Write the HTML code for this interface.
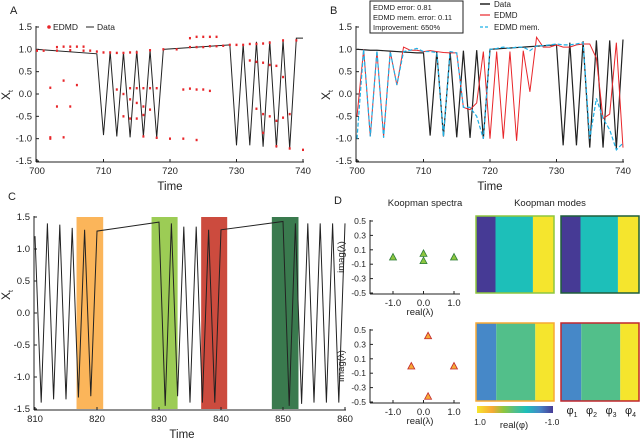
<!DOCTYPE html>
<html><head><meta charset="utf-8"><style>
body{margin:0;background:#fff}
svg{display:block;font-family:"Liberation Sans",Arial,sans-serif}
</style></head><body>
<svg id="fig" width="640" height="442" viewBox="0 0 640 442" xmlns="http://www.w3.org/2000/svg"></svg>
<script>
// ---- data ----
const aTimes=[700,709,710,711,712,713,714,715,716,717,718,719,729,730,731,732,733,734,735,736,737,738,739,740];
const aData=[1.0,0.9,-0.92,0.95,-0.95,0.93,-0.97,0.97,-0.95,0.98,-0.98,1.0,1.1,-1.15,1.12,-1.15,1.17,-1.18,1.18,-1.2,1.2,-1.22,1.25,1.25];
const aEdmdT=[700,701,702,702,702,703,703,703,704,704,704,705,705,705,706,706,707,707,708,709,710,711,712,712,713,713,713,714,714,714,714,715,715,715,715,716,716,716,716,717,717,717,718,718,719,720,721,722,722,723,723,723,724,724,724,724,725,725,725,726,726,726,727,727,728,729,730,731,732,732,733,733,733,734,734,734,734,735,735,735,736,736,736,737,737,737,738,738,739,740];
const aEdmdV=[0.97,0.97,0.14,-0.97,-1.0,1.05,0.97,-0.28,1.06,0.3,-0.97,1.06,0.98,-0.28,1.06,0.2,1.06,0.97,0.97,0.95,0.93,0.93,0.92,0.1,0.92,0.0,-0.5,0.93,0.13,-0.12,-0.55,0.93,0.13,-0.2,-0.55,0.13,-0.28,-0.47,-0.95,0.98,0.13,-0.35,0.13,-0.98,1.0,-1.0,1.0,0.1,-1.0,1.25,1.05,0.12,1.28,1.05,0.1,-1.03,1.28,1.05,0.1,1.28,1.07,0.07,1.28,1.07,1.08,1.1,1.1,1.1,1.12,0.75,1.12,0.72,-0.33,1.13,0.7,-0.45,-0.87,1.15,0.65,-0.5,0.63,-0.6,-1.17,1.2,0.38,-0.53,-0.45,-1.22,1.2,-1.25];
const bTimes=[700,701,702,703,704,705,706,707,708,709,710,711,712,713,714,715,716,717,718,719,720,721,722,723,724,725,726,727,728,729,730,731,732,733,734,735,736,737,738,739,740];
const bData=[1.0,0.99,0.98,0.98,0.97,0.96,0.95,0.94,0.93,0.92,0.92,-0.93,0.95,-0.95,0.95,-0.97,0.97,-0.98,0.98,-1.0,1.0,1.01,1.02,1.03,1.04,1.05,1.06,1.07,1.08,1.09,1.1,-1.15,1.15,-1.15,1.18,-1.2,1.2,-1.2,1.2,-1.22,1.22];
const bEdmd=[-0.5,1.0,-0.95,0.95,-0.95,0.95,0.2,1.05,0.98,0.98,0.95,0.97,0.95,0.93,0.92,0.92,-0.3,-0.35,-0.2,0.95,-1.0,0.95,-1.0,0.95,-1.05,0.97,0.05,1.27,1.05,1.05,1.1,1.05,1.05,1.1,1.12,1.12,0.8,-0.55,-0.45,1.15,-1.2];
const bMem=[-1.0,1.0,-0.95,0.97,-0.98,0.95,0.2,0.95,0.98,1.02,0.95,0.95,0.93,-0.95,0.95,0.92,-0.3,-0.3,-0.5,-1.0,1.0,1.02,1.05,1.02,1.05,1.05,0.97,1.08,1.08,1.1,1.12,1.1,1.1,1.12,1.15,-1.0,-0.1,-0.55,-0.8,-1.25,-1.1];
const cTimes=[810,811,812,813,814,815,816,817,818,819,820,830,831,832,833,834,835,836,837,838,839,840,850,851,852,853,854,855,856,857,858,859,860];
const cData=[1.2,-1.4,1.4,-1.35,1.38,-1.35,1.33,-1.32,1.3,-1.3,1.28,1.42,-1.45,1.4,-1.3,1.35,-1.4,1.35,-1.4,1.3,-1.4,1.3,1.43,-1.45,1.4,-1.42,1.4,-1.4,1.4,-1.4,1.4,-1.4,1.4];
const cBandStart=[816.7,828.8,836.8,848.2];
const cBandEnd=[821,833,841,852.5];
const cBandColors=["#fbb55a","#9ccc55","#cc4b3e","#3a7a4e"];
const spTopRe=[-1,0,0,1], spTopIm=[0,0.05,-0.05,0];
const spBotRe=[0.15,-0.4,1,0.15], spBotIm=[0.42,0,0,-0.42];
const yTicks=[1.5,1.0,0.5,0.0,-0.5,-1.0,-1.5];
const yTickLabels=["1.5","1.0","0.5","0.0","-0.5","-1.0","-1.5"];
const abTicks=[700,710,720,730,740];
const cTicks=[810,820,830,840,850,860];
const spYTicks=[0.5,0.3,0.1,-0.1,-0.3,-0.5];
const spXTicks=[-1,0,1];
const spXLabels=["-1.0","0.0","1.0"];

// ---- helpers ----
const svg=document.getElementById('fig');
const NS="http://www.w3.org/2000/svg";
function mk(tag,at,parent){const e=document.createElementNS(NS,tag);for(const k in at)e.setAttribute(k,at[k]);(parent||svg).appendChild(e);return e;}
function txt(s,x,y,size,anchor,parent,extra){const t=mk('text',Object.assign({x:x,y:y,'font-size':size,'text-anchor':anchor||'middle',fill:'#222'},extra||{}),parent);t.textContent=s;return t;}
function lin(d0,d1,r0,r1){return v=>r0+(v-d0)/(d1-d0)*(r1-r0);}

function axes(name,xs,ys,x0,x1,yb,xt,xtl,ytArr,ytl,xlabel,ysize){
  const g=mk('g',{});
  
  
  mk('line',{x1:x0,y1:ys(ytArr[0])-1,x2:x0,y2:yb,stroke:'#222','stroke-width':1},g);
  mk('line',{x1:x0,y1:yb,x2:x1,y2:yb,stroke:'#222','stroke-width':1},g);
  ytArr.forEach((v,i)=>{mk('line',{x1:x0,y1:ys(v),x2:x0+3,y2:ys(v),stroke:'#222'},g);txt(ytl[i],x0-4,ys(v)+3,ysize||9.5,'end',g);});
  xt.forEach((v,i)=>{mk('line',{x1:xs(v),y1:yb,x2:xs(v),y2:yb-3,stroke:'#222'},g);txt(xtl[i],xs(v),yb+12,9.5,'middle',g);});
  if(xlabel){txt(xlabel[0],xlabel[1],xlabel[2],xlabel[3],'middle',g);}
  return g;
}
function poly(xs,ys,T,V,at,name){const p=mk('polyline',Object.assign({points:T.map((t,i)=>xs(t)+','+ys(V[i])).join(' '),fill:'none'},at));return p;}
function ylab(x,y,name){const t=mk('text',{x:x,y:y,'font-size':12,'text-anchor':'middle',fill:'#222',transform:'rotate(-90 '+x+' '+y+')'});t.textContent='X';const s=mk('tspan',{'font-size':7,dy:3},t);s.textContent='t';}

// ---- Panel A ----
txt("A",10,14,11,'start');
const axA=lin(700,740,37,303), ayA=lin(1.5,-1.5,27,161);
axes('panel-a-axes',axA,ayA,36,304,162,abTicks,abTicks.map(String),yTicks,yTickLabels,["Time",170,190,11.5]);
ylab(10,95,'y-axis-title-a');
poly(axA,ayA,aTimes,aData,{stroke:'#222','stroke-width':1},'data-line-a');
aEdmdT.forEach((t,i)=>{const c=mk('rect',{x:axA(t)-1,y:ayA(aEdmdV[i])-1.2,width:2,height:2.4,fill:'#e8262a'});

});
const lgA=mk('g',{});
mk('circle',{cx:49,cy:27,r:1.8,fill:'#e8262a'},lgA);txt("EDMD",53,30,8.5,'start',lgA);
mk('line',{x1:86,y1:27,x2:94,y2:27,stroke:'#222'},lgA);txt("Data",97,30,8.5,'start',lgA);

// ---- Panel B ----
txt("B",330,14,11,'start');
const axB=lin(700,740,357,623), ayB=lin(1.5,-1.5,27,161);
axes('panel-b-axes',axB,ayB,356,624,162,abTicks,abTicks.map(String),yTicks,yTickLabels,["Time",490,190,11.5]);
ylab(330,95,'y-axis-title-b');
poly(axB,ayB,bTimes,bData,{stroke:'#222','stroke-width':1.2},'data-line-b');
poly(axB,ayB,bTimes,bEdmd,{stroke:'#e8262a','stroke-width':1},'edmd-line-b');
poly(axB,ayB,bTimes,bMem,{stroke:'#1fb1e6','stroke-width':1.2,'stroke-dasharray':'4,2'},'edmd-mem-line-b');
const box=mk('g',{});
mk('rect',{x:370,y:1,width:93,height:32,fill:'#fff',stroke:'#222','stroke-width':1},box);
txt("EDMD error: 0.81",373,10,7.5,'start',box);txt("EDMD mem. error: 0.11",373,20,7.5,'start',box);txt("Improvement: 650%",373,30,7.5,'start',box);
const lgB=mk('g',{});
mk('line',{x1:480,y1:4,x2:490,y2:4,stroke:'#222','stroke-width':1.5},lgB);txt("Data",494,7,8,'start',lgB);
mk('line',{x1:480,y1:15,x2:490,y2:15,stroke:'#e8262a','stroke-width':1.2},lgB);txt("EDMD",494,18,8,'start',lgB);
mk('line',{x1:480,y1:27,x2:490,y2:27,stroke:'#1fb1e6','stroke-width':1.2,'stroke-dasharray':'3,2'},lgB);txt("EDMD mem.",494,30,8,'start',lgB);

// ---- Panel C ----
txt("C",8,200,11,'start');
const axC=lin(810,860,35,345), ayC=lin(1.5,-1.5,217,409);
cBandStart.forEach((s,i)=>{const r=mk('rect',{x:axC(s),y:ayC(1.5),width:axC(cBandEnd[i])-axC(s),height:ayC(-1.5)-ayC(1.5),fill:cBandColors[i]});

});
axes('panel-c-axes',axC,ayC,34,346,410,cTicks,cTicks.map(String),yTicks,yTickLabels,["Time",182,438,11.5]);
ylab(10,295,'y-axis-title-c');
poly(axC,ayC,cTimes,cData,{stroke:'#222','stroke-width':1},'data-line-c');

// ---- Panel D ----
txt("D",334,204,11,'start');
txt("Koopman spectra",425,206,9.5,'middle');
txt("Koopman modes",550,206,9.5,'middle');
function spectra(name,top,bot,Re,Im,fill,edge){
  const xs=lin(-1,1,393,454), ys=lin(0.5,-0.5,top,bot);
  const g=axes(name,xs,ys,370,460,bot+1,spXTicks,spXLabels,spYTicks,spYTicks.map(v=>v.toFixed(1)),["real(λ)",420,bot+22,9.5],8.5);
  const cy=(top+bot)/2;
  txt("imag(λ)",344,cy,9.5,'middle',g,{transform:'rotate(-90 344 '+cy+')'});
  Re.forEach((r,i)=>{const x=xs(r),y=ys(Im[i]);const p=mk('polygon',{points:(x-3.5)+','+(y+3)+' '+(x+3.5)+','+(y+3)+' '+x+','+(y-3.5),fill:fill,stroke:edge,'stroke-width':0.8});
  
  });
}
spectra('spectra-top',221,293,spTopRe,spTopIm,'#8dc63f','#2e7d3a');
spectra('spectra-bottom',330,402,spBotRe,spBotIm,'#f7a935','#c1272d');
function mode(name,x0,x1,y0,y1,w,cols,frame){
  const g=mk('g',{});
  const widths=[w[0],w[1],1-w[0]-w[1]];let x=x0;
  cols.forEach((c,i)=>{const ww=(x1-x0)*widths[i];mk('rect',{x:x,y:y0,width:ww,height:y1-y0,fill:c},g);x+=ww;});
  mk('rect',{x:x0,y:y0,width:x1-x0,height:y1-y0,fill:'none',stroke:frame,'stroke-width':1.5},g);
}
mode('mode-top-left',476,554,216,293,[0.25,0.48],['#463a95','#1dbfb9','#f5e52d'],'#8dc63f');
mode('mode-top-right',561,639,216,293,[0.25,0.48],['#463a95','#1dbfb9','#f5e52d'],'#1e5e3a');
mode('mode-bottom-left',476,554,323,401,[0.26,0.5],['#4688c8','#52bf8a','#f5e52d'],'#f7a935');
mode('mode-bottom-right',561,639,323,401,[0.26,0.5],['#4688c8','#52bf8a','#f5e52d'],'#c1272d');
const defs=mk('defs',{});
const lg=mk('linearGradient',{id:'cb',x1:0,x2:1,y1:0,y2:0},defs);
[['0','#f5e52d'],['0.2','#f7a935'],['0.35','#8dc63f'],['0.5','#52bf8a'],['0.65','#1dbfb9'],['0.82','#4688c8'],['1','#463a95']].forEach(s=>mk('stop',{offset:s[0],'stop-color':s[1]},lg));
const cb=mk('rect',{x:477,y:406,width:76,height:7,fill:'url(#cb)'});


txt("1.0",480,425,8.5,'middle');txt("-1.0",552,425,8.5,'middle');txt("real(φ)",514,428,9.5,'middle');
["φ1","φ2","φ3","φ4"].forEach((s,i)=>{const t=txt(s[0],572+i*19.5,414,11,'middle');
const sub=mk('tspan',{'font-size':7,dy:3});sub.textContent=s[1];t.appendChild(sub);});
</script>
</body></html>
